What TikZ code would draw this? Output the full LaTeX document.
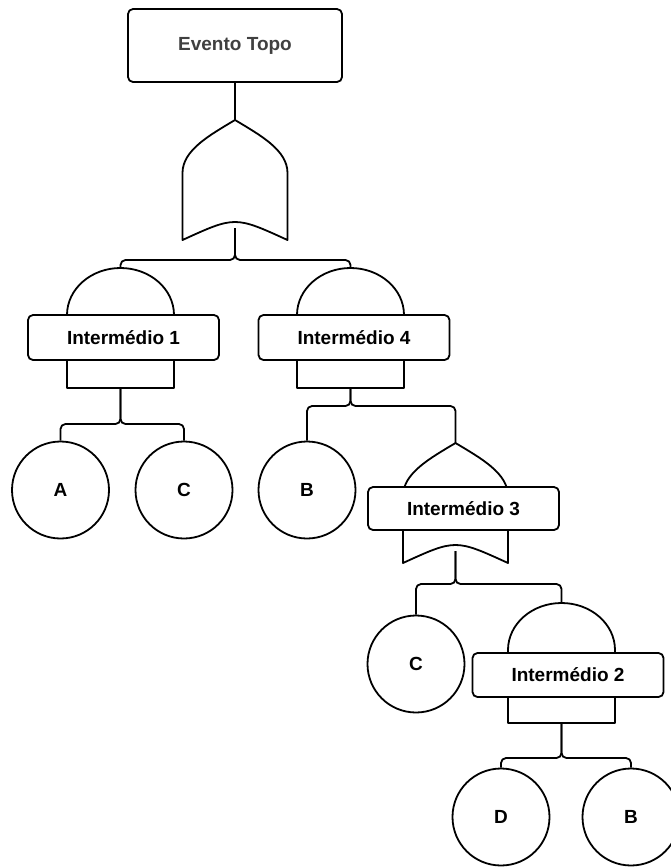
\documentclass[tikz,border=0pt]{standalone}
\usepackage{fontspec}
\setmainfont{Liberation Sans}
\begin{document}
\begin{tikzpicture}[x=1pt,y=-1pt,
  line width=1.8pt, line join=round,
  lbl/.style={font=\fontsize{19}{22}\selectfont\bfseries, text=black},
  evbox/.style={draw, rounded corners=5pt, fill=white, lbl, inner sep=0pt,
    minimum width=191pt, minimum height=45pt},
  basic/.style={draw, circle, fill=white, minimum size=97pt, inner sep=0pt, lbl},
  wire/.style={rounded corners=5pt},
  andgate/.pic={
    \coordinate (-top) at (0,0);
    \coordinate (-out) at (0,120);
    \draw[fill=white] (-53.5,120) -- (-53.5,47)
      .. controls (-53.5,21) and (-29.5,0) .. (0,0)
      .. controls (29.5,0) and (53.5,21) .. (53.5,47)
      -- (53.5,120) -- cycle;
  },
  orgate/.pic={
    \coordinate (-top) at (0,0);
    \coordinate (-out) at (0,108);
    \draw[fill=white] (0,0) .. controls (-25,15) and (-52.5,30) .. (-52.5,53)
      -- (-52.5,120) .. controls (0,96) .. (52.5,120)
      -- (52.5,53) .. controls (52.5,30) and (25,15) .. (0,0) -- cycle;
  }
]
\useasboundingbox (0,0) rectangle (671,868);
\clip (0,0) rectangle (671,868);

% top event
\node[evbox, minimum width=214pt, minimum height=73pt, text=black!75] (top) at (235,45.5) {Evento Topo};

% gates
\pic (g0) at (235,120) {orgate};
\pic (g1) at (120.5,268) {andgate};
\pic (g4) at (350.5,268) {andgate};
\pic (g3) at (455.5,443) {orgate};
\pic (g2) at (561.5,603) {andgate};

% intermediate events
\node[evbox] (i1) at (123.5,337.5) {Intermédio 1};
\node[evbox] (i4) at (354,337.5) {Intermédio 4};
\node[evbox, minimum height=43pt] (i3) at (463.5,508.5) {Intermédio 3};
\node[evbox, minimum height=44pt] (i2) at (568,675) {Intermédio 2};

% basic events
\node[basic] (a)  at (60.5,490) {A};
\node[basic] (c1) at (184,490) {C};
\node[basic] (b1) at (307,490) {B};
\node[basic] (c2) at (416,664) {C};
\node[basic] (d)  at (501,817) {D};
\node[basic] (b2) at (631,817) {B};

% junction points of the branches
\coordinate (j0) at (235,260);
\coordinate (j1) at (120.5,424);
\coordinate (j4) at (350.5,406);
\coordinate (j3) at (455.5,584);
\coordinate (j2) at (561.5,758);

% connectors
\draw (top.south) -- (g0-top);
\draw[wire] (g0-out) -- (j0) -| (g1-top);
\draw[wire] (g0-out) -- (j0) -| (g4-top);
\draw[wire] (g1-out) -- (j1) -| (a.north);
\draw[wire] (g1-out) -- (j1) -| (c1.north);
\draw[wire] (g4-out) -- (j4) -| (b1.north);
\draw[wire] (g4-out) -- (j4) -| (g3-top);
\draw[wire] (g3-out) -- (j3) -| (c2.north);
\draw[wire] (g3-out) -- (j3) -| (g2-top);
\draw[wire] (g2-out) -- (j2) -| (d.north);
\draw[wire] (g2-out) -- (j2) -| (b2.north);
\end{tikzpicture}
\end{document}
